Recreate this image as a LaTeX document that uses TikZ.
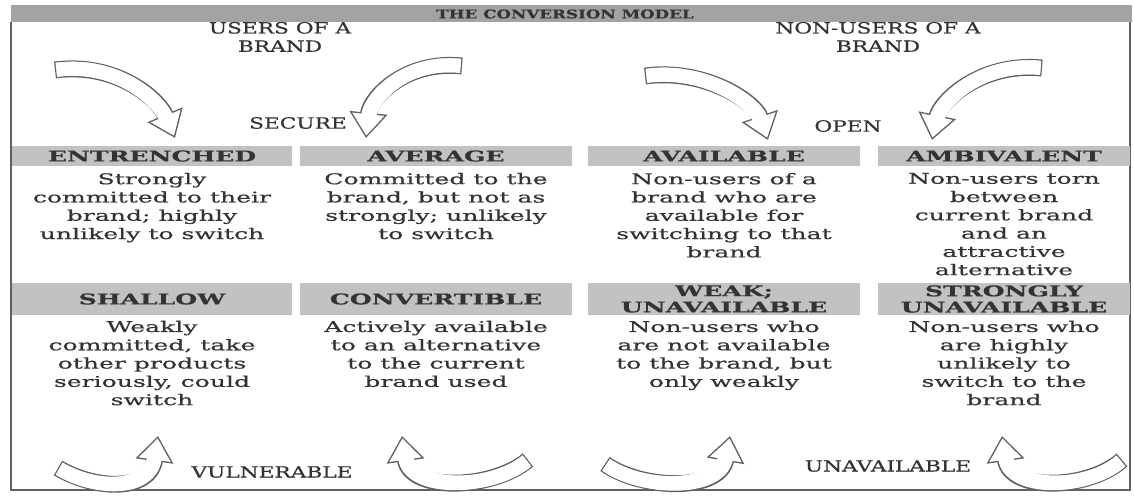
\documentclass[tikz,border=0pt]{standalone}
\usepackage{fontspec}
\newfontfamily\slab[FakeStretch=1.7, FakeBold=0.6]{DejaVu Serif}
\newfontfamily\slabnarrow[FakeStretch=1.4, FakeBold=0.6]{DejaVu Serif}
\usetikzlibrary{arrows.meta, positioning}
\definecolor{ink}{gray}{0.2}
\definecolor{edge}{gray}{0.38}
\definecolor{shade}{gray}{0.76}
\definecolor{titleshade}{gray}{0.64}
\tikzstyle{band} = [rectangle, fill=shade, text=ink, inner sep=0pt, minimum height=0.48cm, align=center, font=\slab\bfseries\fontsize{10.5}{11.5}\selectfont]
\tikzstyle{bandtall} = [band, minimum height=0.82cm]
\tikzstyle{desc} = [text=ink, align=center, inner sep=0pt, font=\slab\fontsize{10.5}{13}\selectfont]
\tikzstyle{group} = [desc, font=\slabnarrow\fontsize{11}{13}\selectfont]
\tikzstyle{arrowout} = [draw=edge, line width=12pt, -{Triangle[width=26pt,length=18pt]}]
\tikzstyle{arrowin} = [draw=white, line width=10pt, shorten <=1pt, shorten >=1.7pt, -{Triangle[width=22pt,length=15.3pt]}]
\tikzstyle{arrowcore} = [draw=white, line width=10pt, shorten <=1pt, shorten >=12pt]
\newcommand{\swoosh}[1]{\draw[arrowout] #1; \draw[arrowin] #1; \draw[arrowcore] #1;}

\begin{document}
\begin{tikzpicture}[x=0.025cm, y=-0.025cm]
\useasboundingbox (0,0) rectangle (1134,502);

% Frame and title
\fill[titleshade] (11,5) rectangle (1132,22);
\draw[edge, line width=0.8pt] (11,22) -- (11,490) -- (1130,490) -- (1130,22);
\node (title) [desc, font=\slabnarrow\bfseries\fontsize{8.5}{10}\selectfont] at (565,14) {THE CONVERSION MODEL};

% Groups
\node (users) [group] at (280,37) {USERS OF A\\BRAND};
\node (nonusers) [group] at (878,37) {NON-USERS OF A\\BRAND};
\node (secure) [group] at (298,123) {SECURE};
\node (open) [group] at (848,126) {OPEN};
\node (vulnerable) [group] at (272,472) {VULNERABLE};
\node (unavailable) [group] at (888,466) {UNAVAILABLE};

% Upper row
\node (entrenched) [band, minimum width=6.98cm] at (152,156) {ENTRENCHED};
\node (average) [band, minimum width=6.8cm] at (436,156) {AVERAGE};
\node (available) [band, minimum width=6.8cm] at (724,156) {AVAILABLE};
\node (ambivalent) [band, minimum width=6.3cm] at (1004,156) {AMBIVALENT};

\node (entrenchedtxt) [desc, below=0.17cm of entrenched] {Strongly\\committed to their\\brand; highly\\unlikely to switch};
\node (averagetxt) [desc, below=0.17cm of average] {Committed to the\\brand, but not as\\strongly; unlikely\\to switch};
\node (availabletxt) [desc, below=0.17cm of available] {Non-users of a\\brand who are\\available for\\switching to that\\brand};
\node (ambivalenttxt) [desc, below=0.17cm of ambivalent] {Non-users torn\\between\\current brand\\and an\\attractive\\alternative};

% Lower row
\node (shallow) [bandtall, minimum width=6.98cm] at (152,299) {SHALLOW};
\node (convertible) [bandtall, minimum width=6.8cm] at (436,299) {CONVERTIBLE};
\node (weak) [bandtall, minimum width=6.8cm] at (724,299) {WEAK;\\UNAVAILABLE};
\node (strongly) [bandtall, minimum width=6.3cm] at (1004,299) {STRONGLY\\UNAVAILABLE};

\node (shallowtxt) [desc, below=0.12cm of shallow] {Weakly\\committed, take\\other products\\seriously, could\\switch};
\node (convertibletxt) [desc, below=0.12cm of convertible] {Actively available\\to an alternative\\to the current\\brand used};
\node (weaktxt) [desc, below=0.12cm of weak] {Non-users who\\are not available\\to the brand, but\\only weakly};
\node (stronglytxt) [desc, below=0.12cm of strongly] {Non-users who\\are highly\\unlikely to\\switch to the\\brand};

% Curved arrows
\coordinate (s1) at (55,70);   \coordinate (e1) at (175,138);
\coordinate (s2) at (462,66);  \coordinate (e2) at (366,138);
\coordinate (s3) at (645,76);  \coordinate (e3) at (768,140);
\coordinate (s4) at (1042,68); \coordinate (e4) at (932,140);
\coordinate (s5) at (58,468);  \coordinate (e5) at (158,436);
\coordinate (s6) at (528,460); \coordinate (e6) at (402,436);
\coordinate (s7) at (605,464); \coordinate (e7) at (730,436);
\coordinate (s8) at (1122,460);\coordinate (e8) at (1002,436);

\swoosh{(s1) .. controls (115,62) and (158,98) .. (e1)}
\swoosh{(s2) .. controls (405,60) and (370,98) .. (e2)}
\swoosh{(s3) .. controls (705,68) and (755,102) .. (e3)}
\swoosh{(s4) .. controls (980,62) and (940,102) .. (e4)}
\swoosh{(s5) .. controls (95,490) and (150,492) .. (e5)}
\swoosh{(s6) .. controls (492,490) and (410,492) .. (e6)}
\swoosh{(s7) .. controls (642,490) and (720,492) .. (e7)}
\swoosh{(s8) .. controls (1088,490) and (1010,492) .. (e8)}

\end{tikzpicture}
\end{document}
